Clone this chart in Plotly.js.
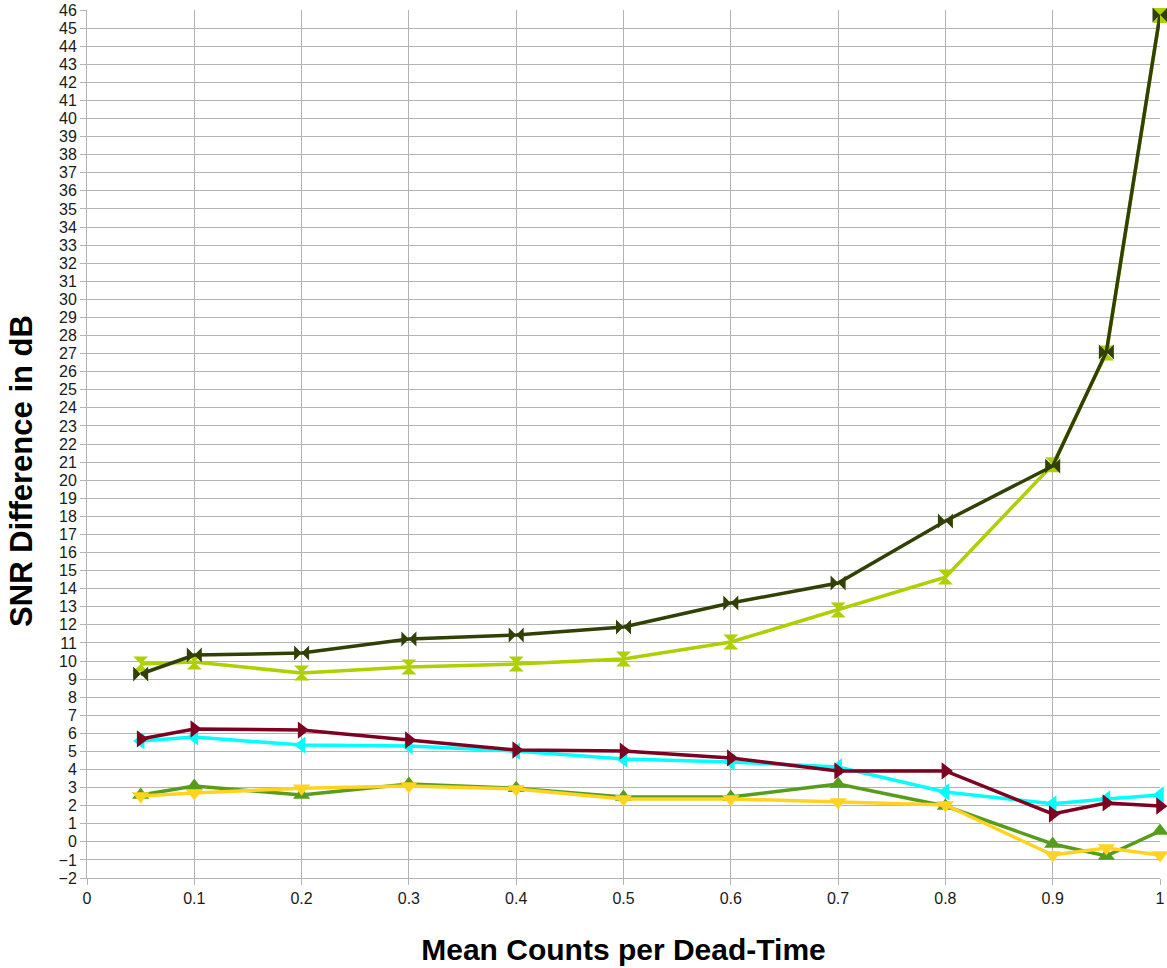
<!DOCTYPE html>
<html>
<head>
<meta charset="utf-8">
<script src="https://cdn.plot.ly/plotly-3.0.1.min.js"></script>
<style>html,body{margin:0;padding:0;background:#fff;}#chart{width:1167px;height:968px;}</style>
</head>
<body>
<div id="chart"></div>
<script>
const xValues = [0.05, 0.1, 0.2, 0.3, 0.4, 0.5, 0.6, 0.7, 0.8, 0.9, 0.95, 1.0];

const seriesYellow = [2.53, 2.7, 2.97, 3.09, 2.92, 2.37, 2.37, 2.2, 2.04, -0.73, -0.34, -0.73];
const seriesGreen = [2.59, 3.09, 2.59, 3.2, 2.97, 2.48, 2.48, 3.2, 1.98, -0.12, -0.78, 0.6];
const seriesCyan = [5.58, 5.8, 5.35, 5.3, 5.02, 4.58, 4.41, 4.14, 2.76, 2.1, 2.37, 2.59];
const seriesMaroon = [5.69, 6.24, 6.18, 5.63, 5.08, 5.02, 4.64, 3.92, 3.92, 1.54, 2.15, 1.98];
const seriesLime = [9.83, 9.94, 9.34, 9.67, 9.83, 10.11, 11.05, 12.82, 14.64, 20.85, 27.03, 45.7];
const seriesOlive = [9.28, 10.33, 10.44, 11.22, 11.44, 11.88, 13.21, 14.31, 17.74, 20.78, 27.09, 45.72];

const xTickVals = [0, 0.1, 0.2, 0.3, 0.4, 0.5, 0.6, 0.7, 0.8, 0.9, 1];
const xTickText = ['0', '0.1', '0.2', '0.3', '0.4', '0.5', '0.6', '0.7', '0.8', '0.9', '1'];
const yTickVals = [];
for (let v = -2; v <= 46; v++) yTickVals.push(v);

const xTitle = 'Mean Counts per Dead-Time';
const yTitle = 'SNR Difference in dB';

function mk(y, color, symbol) {
  return {
    x: xValues, y: y, type: 'scatter', mode: 'lines+markers',
    line: {color: color, width: 3.5},
    marker: {color: color, symbol: symbol, size: 15, line: {width: 0}},
    cliponaxis: false,
    showlegend: false, hoverinfo: 'skip'
  };
}

const data = [
  mk(seriesGreen, '#579d1c', 'triangle-up'),
  mk(seriesYellow, '#ffd320', 'triangle-down'),
  mk(seriesCyan, '#00ffff', 'triangle-left'),
  mk(seriesMaroon, '#7e0021', 'triangle-right'),
  mk(seriesLime, '#aecf00', 'hourglass'),
  mk(seriesOlive, '#314004', 'bowtie')
];

const titleFont = {size: 30, color: '#000', family: 'Liberation Sans, Arial, sans-serif', weight: 'bold'};

const layout = {
  width: 1167, height: 968,
  margin: {l: 87, r: 7, t: 10, b: 90},
  paper_bgcolor: '#ffffff', plot_bgcolor: '#ffffff',
  font: {family: 'Liberation Sans, Arial, sans-serif', size: 16, color: '#1a1a1a'},
  xaxis: {
    range: [0, 1], tickvals: xTickVals, ticktext: xTickText,
    showgrid: true, gridcolor: '#b3b3b3', gridwidth: 1,
    zeroline: false, showline: true, linecolor: '#b3b3b3', linewidth: 1,
    ticks: 'outside', ticklen: 6, tickcolor: '#b3b3b3',
    tickfont: {size: 16, color: '#1a1a1a'},
    title: {text: xTitle, font: titleFont, standoff: 32}
  },
  yaxis: {
    range: [-2, 46], tickvals: yTickVals,
    showgrid: true, gridcolor: '#b3b3b3', gridwidth: 1,
    zeroline: false, showline: true, linecolor: '#b3b3b3', linewidth: 1,
    ticks: 'outside', ticklen: 6, tickcolor: '#b3b3b3',
    tickfont: {size: 16, color: '#1a1a1a'},
    title: {text: ''}
  },
  annotations: [{
    text: yTitle, xref: 'paper', yref: 'paper', x: 0, y: 0.469,
    xanchor: 'center', yanchor: 'middle', xshift: -65, textangle: -90,
    showarrow: false, font: {size: 31, color: '#000', family: 'Liberation Sans, Arial, sans-serif', weight: 'bold'}
  }]
};

Plotly.newPlot('chart', data, layout, {staticPlot: true, displayModeBar: false});
</script>
</body>
</html>
